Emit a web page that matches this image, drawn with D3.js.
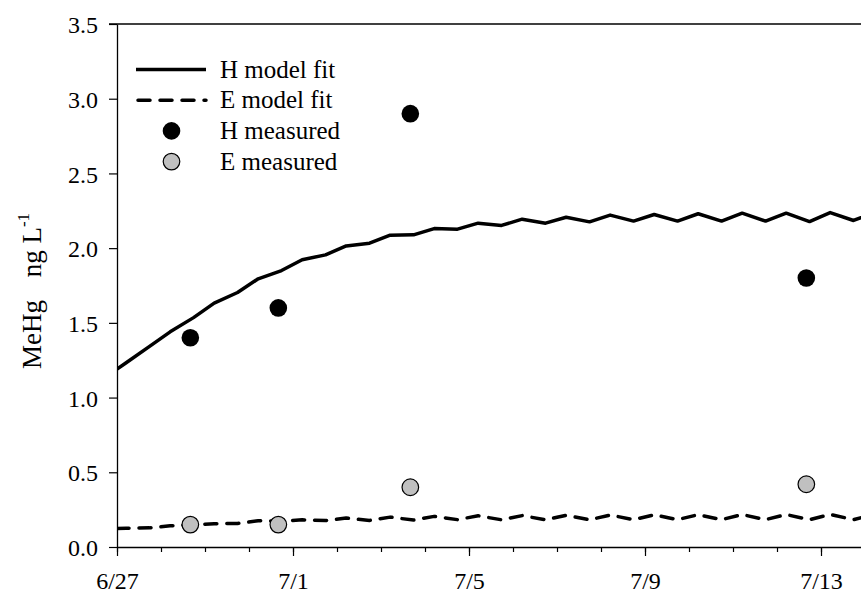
<!DOCTYPE html>
<html>
<head>
<meta charset="utf-8">
<script src="https://cdn.jsdelivr.net/npm/d3@7"></script>
<style>
  body { margin: 0; background: #fff; }
  svg { display: block; }
  text { font-family: "Liberation Serif", "Times New Roman", serif; fill: #000; }
</style>
</head>
<body>
<svg id="chart" width="861" height="599"></svg>
<script>
// Model output times (twice a day) and the fitted MeHg concentrations, ng/L
const fitTimes = [
  "6/27 00:00", "6/27 05:00", "6/27 17:45", "6/28 05:00", "6/28 17:45",
  "6/29 05:00", "6/29 17:45", "6/30 05:00", "6/30 17:45", "7/1 05:00",
  "7/1 17:45", "7/2 05:00", "7/2 17:45", "7/3 05:00", "7/3 17:45",
  "7/4 05:00", "7/4 17:45", "7/5 05:00", "7/5 17:45", "7/6 05:00",
  "7/6 17:45", "7/7 05:00", "7/7 17:45", "7/8 05:00", "7/8 17:45",
  "7/9 05:00", "7/9 17:45", "7/10 05:00", "7/10 17:45", "7/11 05:00",
  "7/11 17:45", "7/12 05:00", "7/12 17:45", "7/13 05:00", "7/13 17:45",
  "7/14 05:00"
];
const hFit = [
  1.19, 1.233, 1.343, 1.44, 1.535,
  1.632, 1.703, 1.795, 1.850, 1.922,
  1.955, 2.015, 2.033, 2.087, 2.089,
  2.131, 2.127, 2.167, 2.152, 2.194,
  2.167, 2.207, 2.176, 2.221, 2.181,
  2.225, 2.181, 2.230, 2.181, 2.234,
  2.181, 2.234, 2.178, 2.238, 2.185,
  2.240
];
const eFit = [
  0.124, 0.126, 0.128, 0.142, 0.148,
  0.156, 0.158, 0.176, 0.172, 0.182,
  0.177, 0.194, 0.178, 0.200, 0.180,
  0.205, 0.183, 0.209, 0.182, 0.210,
  0.182, 0.212, 0.182, 0.214, 0.183,
  0.215, 0.183, 0.216, 0.183, 0.217,
  0.183, 0.217, 0.183, 0.218, 0.183,
  0.218
];

// Field samples
const sampleTimes = ["6/28 16:00", "6/30 16:00", "7/3 16:00", "7/12 16:00"];
const hMeasured = [1.4, 1.6, 2.9, 1.8];
const eMeasured = [0.15, 0.15, 0.4, 0.42];

// Axes
const xDomain = ["6/27 00:00", "7/14 00:00"];
const xTickLabels = ["6/27", "7/1", "7/5", "7/9", "7/13"];
const yTicks = [0, 0.5, 1.0, 1.5, 2.0, 2.5, 3.0, 3.5];
const legendLabels = ["H model fit", "E model fit", "H measured", "E measured"];

const parseStamp = d3.timeParse("%m/%d %H:%M");
const parseDay = d3.timeParse("%m/%d");
const fmtDay = d3.timeFormat("%-m/%-d");

const svg = d3.select("#chart");
const plotLeft = 117, plotRight = 865, plotTop = 24, plotBottom = 547;

const x = d3.scaleTime().domain(xDomain.map(parseStamp)).range([plotLeft, plotRight]);
const y = d3.scaleLinear().domain([0, 3.5]).range([plotBottom, plotTop]);

// clip for the curves at the plot frame
svg.append("defs").append("clipPath").attr("id", "plotClip")
  .append("rect").attr("x", plotLeft).attr("y", 0)
  .attr("width", plotRight - plotLeft).attr("height", 599);

// top frame line
svg.append("line")
  .attr("x1", plotLeft - 8).attr("x2", plotRight).attr("y1", y(3.5)).attr("y2", y(3.5))
  .attr("stroke", "#000").attr("stroke-width", 1.3);

// x axis: daily minor ticks
const minorAxis = d3.axisBottom(x).ticks(d3.timeDay.every(1)).tickSize(5).tickFormat("").tickSizeOuter(0);
svg.append("g").attr("transform", `translate(0,${plotBottom})`).call(minorAxis)
  .call(g => g.select(".domain").attr("stroke-width", 1.3))
  .call(g => g.selectAll(".tick line").attr("stroke-width", 1.2));

// x axis: labelled ticks every four days
const majorAxis = d3.axisBottom(x).tickValues(xTickLabels.map(parseDay))
  .tickFormat(fmtDay).tickSize(9).tickSizeOuter(0);
svg.append("g").attr("transform", `translate(0,${plotBottom})`).call(majorAxis)
  .call(g => g.select(".domain").remove())
  .call(g => g.selectAll(".tick line").attr("stroke-width", 1.2))
  .call(g => g.selectAll(".tick text")
    .attr("y", 42).attr("dy", 0)
    .attr("font-size", 24).attr("font-family", "Liberation Serif"));

// y axis
const yAxis = d3.axisLeft(y).tickValues(yTicks).tickFormat(d3.format(".1f")).tickSize(8).tickSizeOuter(0);
svg.append("g").attr("transform", `translate(${plotLeft},0)`).call(yAxis)
  .call(g => g.select(".domain").attr("stroke-width", 1.3))
  .call(g => g.selectAll(".tick line").attr("stroke-width", 1.2))
  .call(g => g.selectAll(".tick text")
    .attr("x", -19).attr("dy", "0.36em")
    .attr("font-size", 24).attr("font-family", "Liberation Serif"));

// y axis title
const title = svg.append("text")
  .attr("transform", "translate(41,291) rotate(-90)")
  .attr("text-anchor", "middle")
  .attr("font-size", 27);
title.append("tspan").text("MeHg");
title.append("tspan").attr("dx", 16).text(" ng L");
title.append("tspan").attr("dy", -12).attr("font-size", 17).text("-1");

// fitted curves
const fitData = fitTimes.map((t, i) => ({ t: parseStamp(t), h: hFit[i], e: eFit[i] }));
const plot = svg.append("g").attr("clip-path", "url(#plotClip)");

plot.append("path").datum(fitData)
  .attr("fill", "none").attr("stroke", "#000").attr("stroke-width", 3.5)
  .attr("stroke-linejoin", "round")
  .attr("d", d3.line().x(d => x(d.t)).y(d => y(d.h)));

plot.append("path").datum(fitData)
  .attr("fill", "none").attr("stroke", "#000").attr("stroke-width", 3.5)
  .attr("stroke-linecap", "round").attr("stroke-linejoin", "round")
  .attr("stroke-dasharray", "12,10")
  .attr("d", d3.line().x(d => x(d.t)).y(d => y(d.e)));

// measured points
const samples = sampleTimes.map((t, i) => ({ t: parseStamp(t), h: hMeasured[i], e: eMeasured[i] }));
svg.append("g").selectAll("circle").data(samples).join("circle")
  .attr("cx", d => x(d.t)).attr("cy", d => y(d.h)).attr("r", 8.8)
  .attr("fill", "#000");
svg.append("g").selectAll("circle").data(samples).join("circle")
  .attr("cx", d => x(d.t)).attr("cy", d => y(d.e)).attr("r", 8.3)
  .attr("fill", "#c0c0c0").attr("stroke", "#000").attr("stroke-width", 1.2);

// legend
const legend = svg.append("g");
const ly = i => 69.5 + i * 30.7;
legend.append("line").attr("x1", 136).attr("x2", 206).attr("y1", ly(0)).attr("y2", ly(0))
  .attr("stroke", "#000").attr("stroke-width", 3.5);
legend.append("line").attr("x1", 138).attr("x2", 206).attr("y1", ly(1)).attr("y2", ly(1))
  .attr("stroke", "#000").attr("stroke-width", 3.5)
  .attr("stroke-linecap", "round").attr("stroke-dasharray", "12,10");
legend.append("circle").attr("cx", 171.5).attr("cy", ly(2)).attr("r", 8.8).attr("fill", "#000");
legend.append("circle").attr("cx", 171.5).attr("cy", ly(3)).attr("r", 8.3)
  .attr("fill", "#c0c0c0").attr("stroke", "#000").attr("stroke-width", 1.2);
legend.selectAll("text").data(legendLabels).join("text")
  .attr("x", 220).attr("y", (d, i) => ly(i) + 8)
  .attr("font-size", 25)
  .text(d => d);
</script>
</body>
</html>
